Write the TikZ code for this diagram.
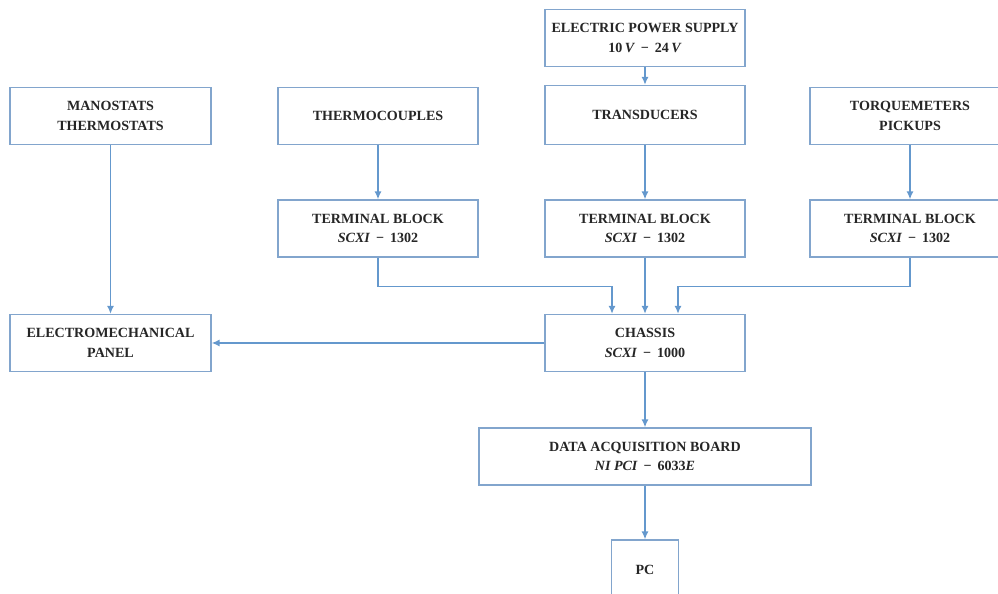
\documentclass[tikz,border=0pt]{standalone}
\usepackage{fontspec}
\setmainfont{Liberation Serif}
\usetikzlibrary{arrows.meta,positioning,calc}
\definecolor{boxline}{RGB}{130,165,205}
\definecolor{wire}{RGB}{100,152,205}

\begin{document}
\begin{tikzpicture}[
    x=0.02cm, y=-0.02cm,
    box/.style={draw=boxline, line width=0.8pt, fill=white, minimum width=4cm, minimum height=1.14cm, align=center, font=\bfseries\fontsize{8}{11}\selectfont, text=black!85},
    arrow/.style={-{Latex[length=4.5pt,width=4pt]}, draw=wire, line width=0.8pt}
]
\useasboundingbox (0,0) rectangle (998,594);
\clip (0,0) rectangle (998,594);
\node[box] (power) at (645,38) {ELECTRIC POWER SUPPLY\\10\,\textit{V} \,−\, 24\,\textit{V}};
\node[box, minimum height=1.18cm] (trans) at (645,115) {TRANSDUCERS};
\node[box, minimum width=4.02cm] (mano) at (110.5,116) {MANOSTATS\\THERMOSTATS};
\node[box] (thermo) at (378,116) {THERMOCOUPLES};
\node[box] (torque) at (910,116) {TORQUEMETERS\\PICKUPS};
\node[box] (tbleft) at (378,228.5) {TERMINAL BLOCK\\\textit{SCXI} \,−\, 1302};
\node[box] (tbmid) at (645,228.5) {TERMINAL BLOCK\\\textit{SCXI} \,−\, 1302};
\node[box] (tbright) at (910,228.5) {TERMINAL BLOCK\\\textit{SCXI} \,−\, 1302};
\node[box, minimum width=4.02cm] (panel) at (110.5,343) {ELECTROMECHANICAL\\PANEL};
\node[box] (chassis) at (645,343) {CHASSIS\\\textit{SCXI} \,−\, 1000};
\node[box, minimum width=6.64cm] (daq) at (645,456.5) {DATA ACQUISITION BOARD\\\textit{NI PCI} \,−\, 6033\textit{E}};
\node[box, minimum width=1.34cm, minimum height=1.2cm] (pc) at (645,570) {PC};
\draw[arrow] (power) -- (trans);
\draw[arrow] (mano) -- (panel);
\draw[arrow] (thermo) -- (tbleft);
\draw[arrow] (trans) -- (tbmid);
\draw[arrow] (torque) -- (tbright);
\draw[arrow] (tbleft.south) -- ++(0,29) -| ($(chassis.north)+(-33,0)$);
\draw[arrow] (tbmid) -- (chassis);
\draw[arrow] (tbright.south) -- ++(0,29) -| ($(chassis.north)+(33,0)$);
\draw[arrow] (chassis) -- (panel);
\draw[arrow] (chassis) -- (daq);
\draw[arrow] (daq) -- (pc);
\end{tikzpicture}
\end{document}
